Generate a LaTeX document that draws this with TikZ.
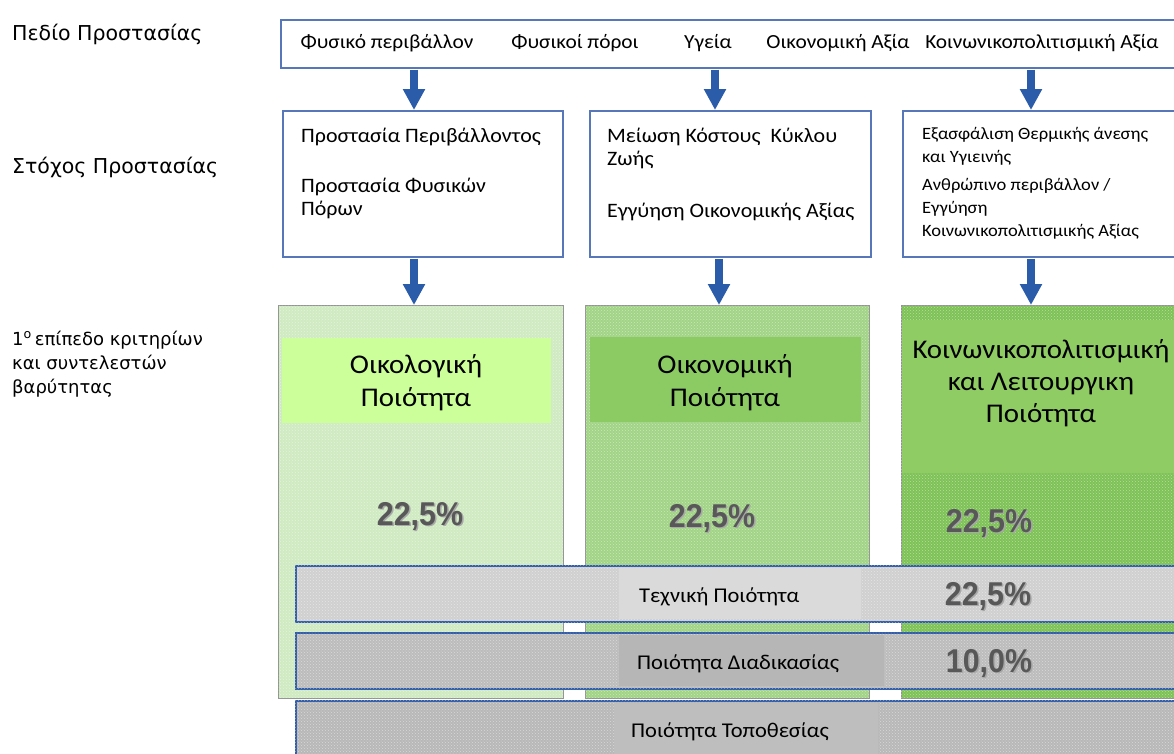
\documentclass[tikz,border=0pt]{standalone}
\usepackage{fontspec}
\setmainfont{Carlito}[FakeStretch=1.07]
\newfontfamily\dv{DejaVu Sans}
\newfontfamily\pctfont{Liberation Sans}[FakeStretch=0.92]
\usetikzlibrary{arrows.meta,calc,patterns}
\definecolor{arrowblue}{HTML}{2A5CAA}
\definecolor{boxline}{HTML}{5677B8}
\definecolor{barline}{HTML}{2F5BA8}
\definecolor{colA}{HTML}{D0EAC2}
\definecolor{colB}{HTML}{A2D486}
\definecolor{colC}{HTML}{7EC257}
\definecolor{colCtop}{HTML}{8FCC63}
\definecolor{labA}{HTML}{CCFF99}
\definecolor{labB}{HTML}{8CCB64}
\definecolor{barA}{HTML}{D0D0D0}
\definecolor{barAl}{HTML}{DADADA}
\definecolor{barB}{HTML}{BCBCBC}
\definecolor{barBl}{HTML}{B6B6B6}
\definecolor{barC}{HTML}{B8B8B8}
\definecolor{barCl}{HTML}{BEBEBE}
\definecolor{pct}{HTML}{585858}
\definecolor{pctsh}{HTML}{A8A8A8}
\begin{document}
\begin{tikzpicture}[x=1pt,y=-1pt,
  wbox/.style={draw=boxline,line width=1.6pt,fill=white,anchor=north west,inner sep=0pt},
  colbox/.style={draw=gray!85,line width=1.4pt,anchor=north west,inner sep=0pt},
  labbox/.style={anchor=north west,inner sep=0pt},
  barbox/.style={draw=barline,line width=2.4pt,anchor=north west,inner sep=0pt},
  dots/.style={pattern=crosshatch dots,pattern color=white,opacity=0.45},
  bigarrow/.style={draw=arrowblue,line width=8pt,-{Triangle[width=21pt,length=21pt]},shorten <=1pt},
  lefttxt/.style={anchor=base west,inner sep=0pt,font=\dv\fontsize{20.5}{24}\selectfont},
  leftsm/.style={anchor=base west,inner sep=0pt,font=\dv\fontsize{18}{24}\selectfont},
  toptxt/.style={anchor=base,inner sep=0pt,font=\fontsize{20}{24}\selectfont},
  btxt/.style={anchor=base west,inner sep=0pt,font=\fontsize{20.5}{24}\selectfont},
  stxt/.style={anchor=base west,inner sep=0pt,font=\fontsize{17.3}{22}\selectfont},
  bigtxt/.style={anchor=base,inner sep=0pt,font=\fontsize{27}{32}\selectfont},
  pcttxt/.style={anchor=base,inner sep=0pt,text=pct,font=\pctfont\bfseries\fontsize{33}{34}\selectfont},
  pctsh/.style={anchor=base,inner sep=0pt,text=pctsh,font=\pctfont\bfseries\fontsize{33}{34}\selectfont},
  bartxt/.style={anchor=base west,inner sep=0pt,font=\fontsize{21}{24}\selectfont}
]
\useasboundingbox (0,0) rectangle (1174,753);

% left labels
\node[lefttxt] (l1) at (12,40) {Πεδίο Προστασίας};
\node[lefttxt] (l2) at (12,173) {Στόχος Προστασίας};
\node[leftsm] (l3a) at (12,345) {1\textsuperscript{ο}\,επίπεδο κριτηρίων};
\node[leftsm] (l3b) at (12,369) {και συντελεστών};
\node[leftsm] (l3c) at (12,393) {βαρύτητας};

% top box
\node[wbox,minimum width=900,minimum height=48] (tb) at (280,19) {};
\node[toptxt] (t1) at (387,48) {Φυσικό περιβάλλον};
\node[toptxt] (t2) at (575,48) {Φυσικοί πόροι};
\node[toptxt] (t3) at (708,48) {Υγεία};
\node[toptxt] (t4) at (838,48) {Οικονομική Αξία};
\node[toptxt] (t5) at (1042,48) {Κοινωνικοπολιτισμική Αξία};

% second row
\node[wbox,minimum width=280,minimum height=146] (b1) at (282,110) {};
\node[wbox,minimum width=281,minimum height=146] (b2) at (589,110) {};
\node[wbox,minimum width=290,minimum height=146] (b3) at (902,110) {};

\node[btxt] (b1a) at (301,142) {Προστασία Περιβάλλοντος};
\node[btxt] (b1b) at (301,192) {Προστασία Φυσικών};
\node[btxt] (b1c) at (301,215) {Πόρων};
\node[btxt] (b2a) at (607,142) {Μείωση Κόστους\ \ Κύκλου};
\node[btxt] (b2b) at (607,165) {Ζωής};
\node[btxt] (b2c) at (607,217) {Εγγύηση Οικονομικής Αξίας};
\node[stxt] (b3a) at (922,139) {Εξασφάλιση Θερμικής άνεσης};
\node[stxt] (b3b) at (922,162) {και Υγιεινής};
\node[stxt] (b3c) at (922,190) {Ανθρώπινο περιβάλλον /};
\node[stxt] (b3d) at (922,213) {Εγγύηση};
\node[stxt] (b3e) at (922,236) {Κοινωνικοπολιτισμικής Αξίας};

% third row columns
\node[colbox,fill=colA,minimum width=285,minimum height=393] (c1) at (278,305) {};
\node[colbox,fill=colB,minimum width=284,minimum height=393] (c2) at (585,305) {};
\node[colbox,fill=colC,minimum width=285,minimum height=393] (c3) at (901,305) {};
\fill[dots] (c1.north west) rectangle (c1.south east);
\fill[dots] (c2.north west) rectangle (c2.south east);
\fill[dots] (c3.north west) rectangle (c3.south east);
\node[labbox,fill=colCtop,minimum width=284,minimum height=153] (c3top) at (902,320) {};

\node[labbox,fill=labA,minimum width=269,minimum height=85] (k1) at (282,338) {};
\node[labbox,fill=labB,minimum width=271,minimum height=85] (k2) at (590,337) {};
\node[bigtxt] (k1t) at (416,373) {Οικολογική};
\node[bigtxt] (k1u) at (416,406) {Ποιότητα};
\node[bigtxt] (k2t) at (725,373) {Οικονομική};
\node[bigtxt] (k2u) at (725,406) {Ποιότητα};
\node[bigtxt] (k3t) at (1041,358) {Κοινωνικοπολιτισμική};
\node[bigtxt] (k3u) at (1041,390) {και Λειτουργικη};
\node[bigtxt] (k3v) at (1041,422) {Ποιότητα};

\node[pctsh] at (421.5,526.5) {22,5\%};
\node[pcttxt] (p1) at (420,525) {22,5\%};
\node[pctsh] at (713.5,528.5) {22,5\%};
\node[pcttxt] (p2) at (712,527) {22,5\%};
\node[pctsh] at (990.5,533.5) {22,5\%};
\node[pcttxt] (p3) at (989,532) {22,5\%};

% arrows
\coordinate (a1) at (414,0);
\coordinate (a2) at (715,0);
\coordinate (a3) at (1031,0);
\coordinate (d1) at (414,0);
\coordinate (d2) at (719,0);
\coordinate (d3) at (1031,0);
\draw[bigarrow] (tb.south -| a1) -- (b1.north -| a1);
\draw[bigarrow] (tb.south -| a2) -- (b2.north -| a2);
\draw[bigarrow] (tb.south -| a3) -- (b3.north -| a3);
\draw[bigarrow] (b1.south -| d1) -- (c1.north -| d1);
\draw[bigarrow] (b2.south -| d2) -- (c2.north -| d2);
\draw[bigarrow] (b3.south -| d3) -- (c3.north -| d3);

% horizontal bars
\node[barbox,fill=barA,minimum width=885,minimum height=56] (r1) at (295,565) {};
\fill[dots] (r1.north west) rectangle (r1.south east);
\node[labbox,fill=barAl,minimum width=242,minimum height=51] (r1l) at (619,567.5) {};
\node[bartxt] (r1t) at (639,602) {Τεχνική Ποιότητα};
\node[pctsh] at (989.5,606.5) {22,5\%};
\node[pcttxt] (r1p) at (988,605) {22,5\%};

\node[barbox,fill=barB,minimum width=885,minimum height=56] (r2) at (295,632) {};
\fill[dots] (r2.north west) rectangle (r2.south east);
\node[labbox,fill=barBl,minimum width=265,minimum height=51] (r2l) at (619,634.5) {};
\node[bartxt] (r2t) at (637,669) {Ποιότητα Διαδικασίας};
\node[pctsh] at (990.5,673.5) {10,0\%};
\node[pcttxt] (r2p) at (989,672) {10,0\%};

\node[barbox,fill=barC,minimum width=885,minimum height=62] (r3) at (295,700) {};
\fill[dots] (r3.north west) rectangle (r3.south east);
\node[labbox,fill=barCl,minimum width=264,minimum height=52] (r3l) at (614,703) {};
\node[bartxt] (r3t) at (631,737) {Ποιότητα Τοποθεσίας};
\end{tikzpicture}
\end{document}
